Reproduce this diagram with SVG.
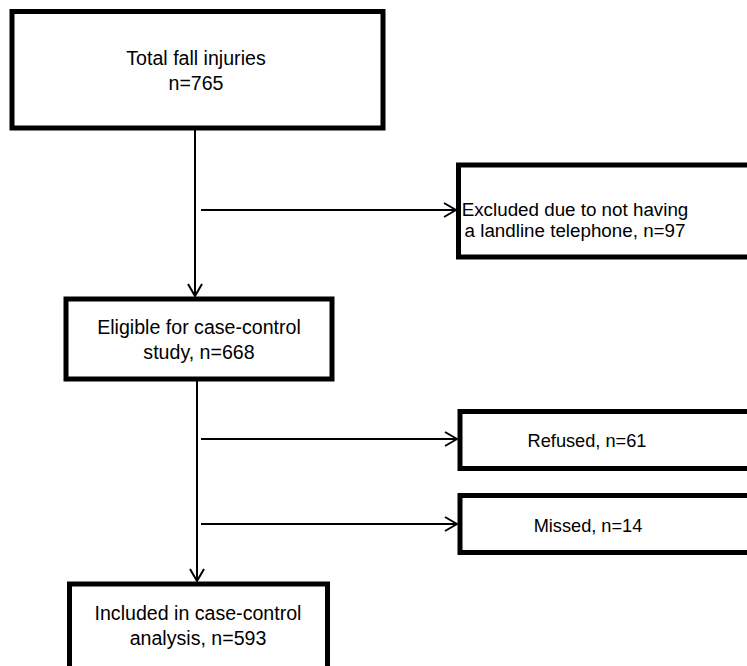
<svg xmlns="http://www.w3.org/2000/svg" width="747" height="666" viewBox="0 0 747 666">
<style>
.box{fill:#fff;stroke:#000;stroke-width:5}
.t{font-family:"Liberation Sans",Arial,sans-serif;font-size:19.6px;fill:#000;text-anchor:middle}
.s{font-size:18.2px}
.e{font-size:18.8px}
.c{stroke:#000;stroke-width:2;fill:none}
</style>
<defs>
<marker id="ah" viewBox="0 0 14 16" refX="13" refY="8" markerWidth="14" markerHeight="16" markerUnits="userSpaceOnUse" orient="auto">
<path d="M1,1 L13,8 L1,15" fill="none" stroke="#000" stroke-width="2"/>
</marker>
</defs>
<g id="connectors">
<line class="c" x1="195" y1="130" x2="195" y2="296" marker-end="url(#ah)"/>
<line class="c" x1="201" y1="210" x2="456" y2="210" marker-end="url(#ah)"/>
<line class="c" x1="197" y1="381" x2="197" y2="581" marker-end="url(#ah)"/>
<line class="c" x1="201" y1="439" x2="457" y2="439" marker-end="url(#ah)"/>
<line class="c" x1="201" y1="524" x2="457" y2="524" marker-end="url(#ah)"/>
</g>
<g id="total">
<rect class="box" x="12" y="11.5" width="371" height="116.5"/>
<text class="t" x="196" y="65">Total fall injuries</text>
<text class="t" x="196" y="90">n=765</text>
</g>
<g id="excluded">
<rect class="box" x="458.5" y="165" width="300" height="92"/>
<text class="t e" x="575" y="216">Excluded due to not having</text>
<text class="t e" x="575" y="237">a landline telephone, n=97</text>
</g>
<g id="eligible">
<rect class="box" x="66" y="299" width="266" height="80"/>
<text class="t" x="199" y="334">Eligible for case-control</text>
<text class="t" x="199" y="359">study, n=668</text>
</g>
<g id="refused">
<rect class="box" x="460" y="411.5" width="300" height="57"/>
<text class="t s" x="587" y="446.5">Refused, n=61</text>
</g>
<g id="missed">
<rect class="box" x="460" y="495.5" width="300" height="57"/>
<text class="t s" x="588" y="531.5">Missed, n=14</text>
</g>
<g id="included">
<rect class="box" x="69.5" y="584" width="258" height="100"/>
<text class="t" x="198" y="620">Included in case-control</text>
<text class="t" x="198" y="645">analysis, n=593</text>
</g>
</svg>
